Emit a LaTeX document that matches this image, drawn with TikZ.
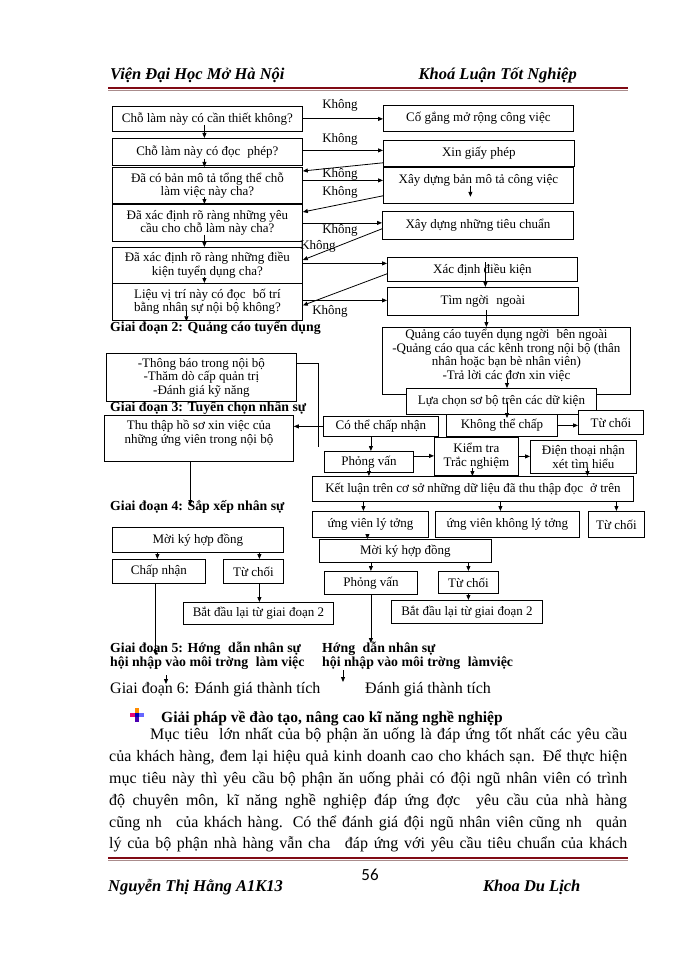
\documentclass[tikz,border=0pt]{standalone}
\usepackage{fontspec}
\setmainfont{Liberation Serif}
\newfontfamily\numfont{Carlito}
\usetikzlibrary{arrows.meta}
\newcommand\bxf{\fontsize{13}{13.5}\selectfont}
\newcommand\stf{\fontsize{13.8}{14}\selectfont\bfseries}
\newcommand\bodyf{\fontsize{16}{18}\selectfont}
\newcommand\gp{\hspace{0.55em}}
\definecolor{hdrred}{RGB}{128,10,20}
\definecolor{hdrgray}{RGB}{170,140,140}
\begin{document}
\begin{tikzpicture}[x=1pt,y=-1pt,
  bx/.style={draw, fill=white, line width=0.8pt, inner sep=1pt, align=center, font=\bxf, anchor=north west},
  arr/.style={-{Triangle[length=5pt,width=4pt]}, line width=0.8pt},
  ln/.style={line width=0.8pt},
  lbl/.style={font=\bxf, inner sep=0pt},
  stg/.style={font=\stf, inner sep=0pt, anchor=west},
  bodyl/.style={font=\bodyf, inner sep=0pt, anchor=west},
  hdr/.style={font=\fontsize{16.5}{17}\selectfont\bfseries\itshape, inner sep=0pt},
  ftr/.style={font=\fontsize{16.5}{17}\selectfont\bfseries\itshape, inner sep=0pt, anchor=west},
  rule/.style={line width=2.4pt, hdrred}]
\useasboundingbox (0,0) rectangle (700,960);
\fill[white] (0,0) rectangle (700,960);

% header
\node[hdr, anchor=west] (h1) at (110,75) {Viện Đại Học Mở Hà Nội};
\node[hdr, anchor=east] (h2) at (577,75) {Khoá Luận Tốt Nghiệp};
\draw[rule] (108,88) -- (628,88);
\draw[hdrgray, line width=1pt] (108,90.5) -- (628,90.5);

% left question column
\node[bx, minimum width=190pt, minimum height=25pt] (b1) at (112,106) {Chỗ làm này có cần thiết không?};
\node[bx, minimum width=190pt, minimum height=27pt] (b2) at (112,138) {Chỗ làm này có đọc\gp phép?};
\node[bx, minimum width=190pt, minimum height=36pt] (b3) at (112,167) {Đã có bản mô tả tổng thể chỗ\\làm việc này cha?};
\node[bx, minimum width=190pt, minimum height=37pt] (b4) at (112,204) {Đã xác định rõ ràng những yêu\\cầu cho chỗ làm này cha?};
\node[bx, minimum width=190pt, minimum height=36pt] (b5) at (112,247) {Đã xác định rõ ràng những điều\\kiện tuyển dụng cha?};
\node[bx, minimum width=190pt, minimum height=37pt] (b6) at (112,283) {Liệu vị trí này có đọc\gp bố trí\\bằng nhân sự nội bộ không?};

% right action column
\node[bx, minimum width=190pt, minimum height=26pt] (r1) at (383,105) {Cố gắng mở rộng công việc};
\node[bx, minimum width=191pt, minimum height=26pt] (r2) at (383,140) {Xin giấy phép};
\node[bx, minimum width=190pt, minimum height=36pt] (r3) at (383,167) {Xây dựng bản mô tả công việc\\\mbox{}};
\node[bx, minimum width=191pt, minimum height=28pt] (r4) at (382,211) {Xây dựng những tiêu chuẩn};
\node[bx, minimum width=190pt, minimum height=24pt] (r5) at (387,257) {Xác định điều kiện};
\node[bx, minimum width=191pt, minimum height=28pt] (r6) at (387,287) {Tìm ngời\gp ngoài};
\node[bx, minimum width=248pt, minimum height=67pt] (r7) at (382,327) {Quảng cáo tuyển dụng ngời\gp bên ngoài\\-Quảng cáo qua các kênh trong nội bộ (thân\\nhân hoặc bạn bè nhân viên)\\-Trả lời các đơn xin việc\\\mbox{}};
\node[bx, minimum width=190pt, minimum height=26pt] (r8) at (406,388) {Lựa chọn sơ bộ trên các dữ kiện};
\node[bx, minimum width=115pt, minimum height=20pt] (cothe) at (323,416) {Có thể chấp nhận};
\node[bx, minimum width=111pt, minimum height=22pt] (khongthe) at (446,414) {Không thể chấp};
\node[bx, minimum width=65pt, minimum height=24pt] (tca) at (578,410) {Từ chối};
\node[bx, minimum width=84pt, minimum height=38pt] (kiemtra) at (434,437) {Kiểm tra\\Trắc nghiệm};
\node[bx, minimum width=106pt, minimum height=33pt] (dienthoai) at (530,440) {Điện thoại nhận\\xét tìm hiểu};
\node[bx, minimum width=89pt, minimum height=21pt] (pv1) at (324,451) {Phỏng vấn};
\node[bx, minimum width=321pt, minimum height=25pt] (ketluan) at (312,476) {Kết luận trên cơ sở những dữ liệu đã thu thập đọc\gp ở trên};
\node[bx, minimum width=116pt, minimum height=26pt] (uvlt) at (312,511) {ứng viên lý tởng};
\node[bx, minimum width=144pt, minimum height=26pt] (uvklt) at (435,511) {ứng viên không lý tởng};
\node[bx, minimum width=56pt, minimum height=26pt] (tcb) at (588,511) {Từ chối};
\node[bx, minimum width=172pt, minimum height=23pt] (mkr) at (319,539) {Mời ký hợp đồng};
\node[bx, minimum width=93pt, minimum height=23pt] (pv2) at (324,571) {Phỏng vấn};
\node[bx, minimum width=60pt, minimum height=22pt] (tcc) at (438,571) {Từ chối};
\node[bx, minimum width=151pt, minimum height=23pt] (bdr) at (391,600) {Bắt đầu lại từ giai đoạn 2};

% left lower column
\node[stg] (g2) at (110,328) {Giai đoạn 2: Quảng cáo tuyển dụng};
\node[stg] (g3) at (110,408) {Giai đoạn 3: Tuyển chọn nhân sự};
\node[bx, minimum width=190pt, minimum height=48pt] (tb) at (106,353) {-Thông báo trong nội bộ\\-Thăm dò cấp quản trị\\-Đánh giá kỹ năng};
\node[bx, minimum width=189pt, minimum height=46pt] (tt) at (104,415) {Thu thập hồ sơ xin việc của\\những ứng viên trong nội bộ\\\mbox{}};
\node[stg] (g4) at (110,507) {Giai đoạn 4: Sắp xếp nhân sự};
\node[bx, minimum width=171pt, minimum height=25pt] (mkl) at (112,527) {Mời ký hợp đồng};
\node[bx, minimum width=93pt, minimum height=24pt] (cn) at (112,559) {Chấp nhận};
\node[bx, minimum width=60pt, minimum height=24pt] (tcl) at (223,559) {Từ chối};
\node[bx, minimum width=150pt, minimum height=22pt] (bdl) at (183,602) {Bắt đầu lại từ giai đoạn 2};

% stage 5 / 6
\node[stg] (g5a) at (110,649) {Giai đoạn 5: Hớng\gp dẫn nhân sự};
\node[stg] (g5b) at (110,663) {hội nhập vào môi trờng\gp làm việc};
\node[stg] (g5c) at (322,649) {Hớng\gp dẫn nhân sự};
\node[stg] (g5d) at (322,663) {hội nhập vào môi trờng\gp làmviệc};
\node[font=\fontsize{16}{17}\selectfont, inner sep=0pt, anchor=west] (g6a) at (110,690) {Giai đoạn 6: Đánh giá thành tích};
\node[font=\fontsize{16}{17}\selectfont, inner sep=0pt, anchor=west] (g6b) at (365,690) {Đánh giá thành tích};

% "Không" labels
\node[lbl] (k1) at (340,105) {Không};
\node[lbl] (k2) at (340,139) {Không};
\node[lbl] (k3) at (340,174) {Không};
\node[lbl] (k4) at (340,192) {Không};
\node[lbl] (k5) at (340,230) {Không};
\node[lbl] (k6) at (318,246) {Không};
\node[lbl] (k7) at (330,311) {Không};

% vertical arrows in question column
\foreach \a/\b in {b1/b2,b2/b3,b3/b4,b4/b5,b5/b6}
  \draw[arr] ([xshift=-3pt,yshift=7pt]\a.south) -- ([xshift=-3pt]\b.north);
\path ([xshift=-21pt]b6.south) coordinate (b6s);
\draw[arr] ([yshift=10pt]b6s) -- (b6s |- g2.north);

% question -> action arrows
\draw[arr] (b1.east) -- (b1.east -| r1.west);
\draw[arr] ([yshift=1.5pt]b2.east) -- ([yshift=1.5pt]b2.east -| r2.west);
\draw[arr] ([yshift=4pt]r2.south west) -- ([yshift=-4pt]b3.north east);
\draw[arr] ([yshift=5pt]b3.east) -- ([yshift=5pt]b3.east -| r3.west);
\draw[arr] ([yshift=8pt]r3.south west) -- ([yshift=-8pt]b4.north east);
\draw[arr] (b4.east) -- (b4.east -| r4.west);
\draw[arr] ([yshift=11pt]r4.south west) -- ([yshift=-13pt]b5.north east);
\draw[arr] ([yshift=2pt]b5.east) -- ([yshift=2pt]b5.east -| r5.west);
\draw[arr] ([yshift=8pt]r5.south west) -- ([yshift=-3.5pt]b6.east);
\draw[arr] ([yshift=1.5pt]b6.east) -- ([yshift=1.5pt]b6.east -| r6.west);
\draw[arr] ([xshift=-8pt,yshift=18pt]r3.south) -- ([xshift=-8pt,yshift=7pt]r3.south);

% right column flow
\draw[arr] ([xshift=3pt,yshift=7pt]r5.center) -- ([xshift=3pt]r5.center |- r6.north);
\draw[arr] ([xshift=3.5pt,yshift=6pt]r6.south) -- ([xshift=3.5pt]r6.south |- r7.north);
\path (507,0) coordinate (xr8);
\draw[arr] (xr8 |- 0,378) -- (xr8 |- r8.north);
\draw[arr] (xr8 |- 0,402) -- (xr8 |- 0,418);
\draw[arr] (khongthe.east) -- (khongthe.east -| tca.west);
\draw[arr] (cothe.west) -- (cothe.west -| tt.east);
\coordinate (tbend) at (318,447);
\draw[ln] ([yshift=14pt]tb.east) -| (tbend);
\draw[arr] ([xshift=-10pt]cothe.south) -- ([xshift=-10pt]cothe.south |- pv1.north);
\draw[arr] ([yshift=6pt]pv1.east) -- ([yshift=6pt]pv1.east -| kiemtra.west);
\draw[arr] (kiemtra.east) -- (kiemtra.east -| dienthoai.west);
\draw[arr] ([yshift=5pt]pv1.south) -- (pv1.south |- ketluan.north);
\draw[arr] ([xshift=-4pt,yshift=8pt]kiemtra.south) -- ([xshift=-4pt]kiemtra.south |- ketluan.north);
\draw[arr] ([xshift=4pt,yshift=6pt]dienthoai.south) -- ([xshift=4pt]dienthoai.south |- ketluan.north);
\draw[arr] ([xshift=-7pt]uvlt.north |- ketluan.south) -- ([xshift=-7pt]uvlt.north);
\draw[arr] ([xshift=-7pt]uvklt.north |- ketluan.south) -- ([xshift=-7pt]uvklt.north);
\draw[arr] (tcb.north |- ketluan.south) -- (tcb.north);
\draw[arr] ([xshift=-3pt]uvlt.south) -- ([xshift=-3pt]uvlt.south |- mkr.north);
\draw[arr] (pv2.north |- mkr.south) -- (pv2.north);
\draw[arr] (tcc.north |- mkr.south) -- (tcc.north);
\draw[arr] (tcc.south) -- (tcc.south |- bdr.north);
\coordinate (pv2end) at (371,643);
\draw[arr] (pv2.south) -- (pv2.south |- pv2end);

% left lower flow
\coordinate (ttend) at (190,505);
\draw[arr] ([xshift=-8.5pt]tt.south) -- ([xshift=-8.5pt]tt.south |- ttend);
\draw[arr] ([xshift=-1.5pt]cn.north |- mkl.south) -- ([xshift=-1.5pt]cn.north);
\draw[arr] ([xshift=6pt]tcl.north |- mkl.south) -- ([xshift=6pt]tcl.north);
\draw[arr] ([xshift=6pt]tcl.south) -- ([xshift=6pt]tcl.south |- bdl.north);
\coordinate (cnend) at (155,655);
\draw[arr] ([xshift=-3.5pt]cn.south) -- ([xshift=-3.5pt]cn.south |- cnend);
\coordinate (s6a) at (166,675);
\coordinate (s6b) at (166,684);
\draw[arr] (s6a) -- (s6b);
\coordinate (s6c) at (343,670);
\coordinate (s6d) at (343,682);
\draw[arr] (s6c) -- (s6d);

% bullet icon
\fill[orange!90!yellow] (135,708) rectangle (139,713);
\fill[magenta!80!red] (130,713) rectangle (135,717);
\fill[blue!70!black] (135,713) rectangle (139,717);
\fill[blue!60] (139,713) rectangle (144,717);
\fill[blue!40!violet] (135,717) rectangle (139,722);
\node[font=\fontsize{15.5}{17}\selectfont\bfseries, inner sep=0pt, anchor=west] (title) at (161,719) {Giải pháp về đào tạo, nâng cao kĩ năng nghề nghiệp};

% paragraph
\node[bodyl] (p1) at (150,735) {\makebox[477pt][s]{Mục tiêu\ \ lớn nhất của bộ phận ăn uống là đáp ứng tốt nhất các yêu cầu}};
\node[bodyl] (p2) at (109,757) {\makebox[518pt][s]{của khách hàng, đem lại hiệu quả kinh doanh cao cho khách sạn. Để thực hiện}};
\node[bodyl] (p3) at (109,779) {\makebox[518pt][s]{mục tiêu này thì yêu cầu bộ phận ăn uống phải có đội ngũ nhân viên có trình}};
\node[bodyl] (p4) at (109,801) {\makebox[518pt][s]{độ chuyên môn, kĩ năng nghề nghiệp đáp ứng đợc\gp\ yêu cầu của nhà hàng}};
\node[bodyl] (p5) at (109,823) {\makebox[518pt][s]{cũng nh\gp\ của khách hàng. Có thể đánh giá đội ngũ nhân viên cũng nh\gp\ quản}};
\node[bodyl] (p6) at (109,844) {\makebox[518pt][s]{lý của bộ phận nhà hàng vẫn cha\gp\ đáp ứng với yêu cầu tiêu chuẩn của khách}};

% footer
\draw[rule] (108,858) -- (628,858);
\draw[hdrgray, line width=1pt] (108,860.5) -- (628,860.5);
\node[font=\numfont\fontsize{17}{18}\selectfont, inner sep=0pt] (pg) at (370,875) {56};
\node[ftr] (f1) at (108,887) {Nguyễn Thị Hằng A1K13};
\node[ftr] (f2) at (483,887) {Khoa Du Lịch};
\end{tikzpicture}
\end{document}
